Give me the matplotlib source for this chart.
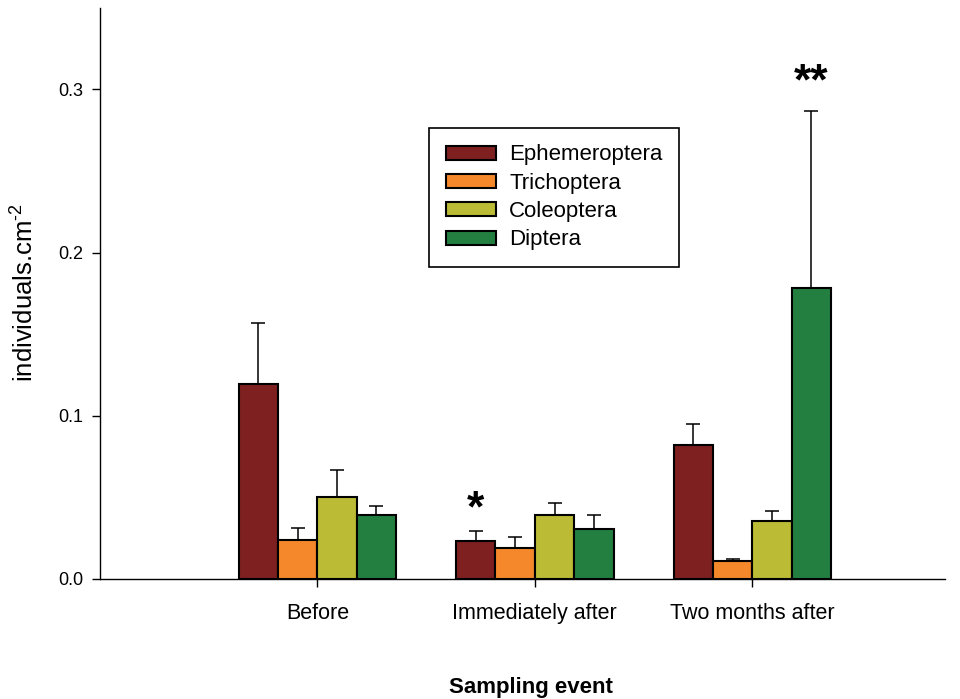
import numpy as np
import matplotlib
matplotlib.use("Agg")
from matplotlib import pyplot as plt

plt.rcParams['font.family'] = ['Liberation Sans', 'DejaVu Sans']
plt.rcParams['mathtext.fontset'] = 'custom'
plt.rcParams['mathtext.rm'] = 'Liberation Sans'
plt.rcParams['mathtext.it'] = 'Liberation Sans'

eventos = ['Before', 'Immediately after', 'Two months after']
grupos = ['Ephemeroptera', 'Trichoptera', 'Coleoptera', 'Diptera']
colores = ['#7f2020', '#f5882a', '#bbbb35', '#237f3f']

# media y error (solo barra superior) por grupo
ephemeroptera = [0.1195, 0.0231, 0.0820]
trichoptera = [0.0237, 0.0188, 0.0108]
coleoptera = [0.0501, 0.0390, 0.0356]
diptera = [0.0395, 0.0307, 0.1785]

errEphemeroptera = [0.0375, 0.0065, 0.0127]
errTrichoptera = [0.0078, 0.0072, 0.0017]
errColeoptera = [0.0168, 0.0078, 0.0063]
errDiptera = [0.0055, 0.0083, 0.1084]

medias = [ephemeroptera, trichoptera, coleoptera, diptera]
errores = [errEphemeroptera, errTrichoptera, errColeoptera, errDiptera]

fig = plt.figure(figsize=(9.6, 6.99), dpi=100)
ax = fig.add_axes([0.104, 0.1717, 0.88, 0.817])

x = np.arange(len(eventos))
ancho = 0.181
for i in range(4):
    pos = x + (i - 1.5) * ancho
    ax.bar(pos, medias[i], ancho, color=colores[i], edgecolor='black',
           linewidth=1.5, label=grupos[i], zorder=2)
    ax.errorbar(pos, medias[i], yerr=[np.zeros(3), errores[i]], fmt='none',
                ecolor='black', elinewidth=1.1, capsize=5, capthick=1.1, zorder=1)

# asteriscos de significancia
ax.text(x[1] - 1.5 * ancho, ephemeroptera[1] + errEphemeroptera[1] + 0.013, '*',
        ha='center', va='center', fontsize=32, fontweight='bold')
ax.text(x[2] + 1.5 * ancho, diptera[2] + errDiptera[2] + 0.017, '**',
        ha='center', va='center', fontsize=32, fontweight='bold')

ax.set_xlim(-1.0, 2.884)
ax.set_ylim(0, 0.35)
ax.set_yticks([0.0, 0.1, 0.2, 0.3])
ax.set_yticklabels(['0.0', '0.1', '0.2', '0.3'], fontsize=13)
ax.set_xticks(x)
ax.set_xticklabels(eventos, fontsize=15.5)
ax.tick_params(axis='y', direction='out', length=6, width=1, pad=6)
ax.tick_params(axis='x', direction='out', length=6, width=1, pad=11)
ax.spines['top'].set_visible(False)
ax.spines['right'].set_visible(False)
ax.spines['left'].set_linewidth(1)
ax.spines['bottom'].set_linewidth(1)

fig.text(25 / 960, 1 - 292 / 699, 'individuals.cm$^{\u2010 2}$', rotation=90,
         ha='center', va='center', fontsize=18.5)
fig.text(531 / 960, 1 - 687 / 699, 'Sampling event', ha='center', va='center',
         fontsize=16, fontweight='bold')

leg = ax.legend(loc='upper left', bbox_to_anchor=(0.39, 0.79), fontsize=16,
                handlelength=2.25, handleheight=0.6, handletextpad=0.6,
                labelspacing=0.33, borderpad=0.75, borderaxespad=0,
                fancybox=False, framealpha=1, edgecolor='black')
leg.get_frame().set_linewidth(1.2)

plt.savefig('out.png', dpi=100)
